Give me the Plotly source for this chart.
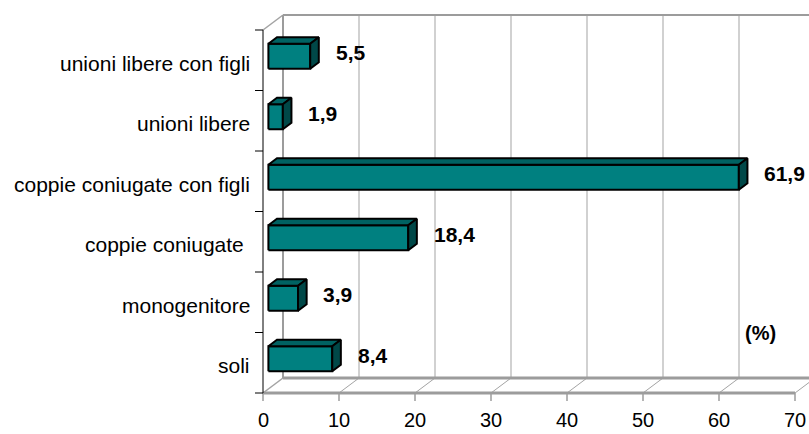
import plotly.graph_objects as go

# ---- data ----
categories = ["soli", "monogenitore", "coppie coniugate\u00a0", "coppie coniugate con figli",
              "unioni libere", "unioni libere con figli"]
values = [8.4, 3.9, 18.4, 61.9, 1.9, 5.5]
value_labels = ["8,4", "3,9", "18,4", "61,9", "1,9", "5,5"]
x_ticks = [0, 10, 20, 30, 40, 50, 60, 70]
x_tick_labels = ["0", "10", "20", "30", "40", "50", "60", "70"]
unit_label = "(%)"

# ---- geometry (data units) ----
W, H = 809, 434
XMIN, XMAX = -34.605, 71.842
YMIN, YMAX = -0.6777, 6.4959
PX_X = W / (XMAX - XMIN)
PX_Y = H / (YMAX - YMIN)
DX = 20 / PX_X          # depth offset of the 3D box
DY = 15 / PX_Y
F0, F1 = 0.27, 0.70     # bar depth span (fraction of box depth)
HALF = 0.2066           # half bar thickness
NCAT = len(categories)
XM = x_ticks[-1]

FONT = "Liberation Sans, Arial, sans-serif"
GRID = "#A3A3A3"
EDGE = "#9C9C9C"

fig = go.Figure()

def seg_trace(segs, color, width):
    xs, ys = [], []
    for (x0, y0, x1, y1) in segs:
        xs += [x0, x1, None]
        ys += [y0, y1, None]
    fig.add_trace(go.Scatter(x=xs, y=ys, mode="lines", line=dict(color=color, width=width),
                             hoverinfo="skip", showlegend=False))

# back wall vertical gridlines
seg_trace([(t + DX, DY, t + DX, NCAT + DY) for t in x_ticks[1:]], GRID, 1)
# floor diagonals
seg_trace([(t, 0, t + DX, DY) for t in x_ticks[1:]], GRID, 1)
seg_trace([(0, 0, DX, DY), (0, NCAT, DX, NCAT + DY)], GRID, 1.5)
# wall / floor edges
seg_trace([(DX, DY, DX, NCAT + DY), (DX, NCAT + DY, XM + DX + 5, NCAT + DY)], EDGE, 2)
seg_trace([(DX, DY, XM + DX, DY), (0, 0, XM, 0)], EDGE, 3)
# x tick marks
seg_trace([(t, 0, t, -8 / PX_Y) for t in x_ticks], EDGE, 1.5)
# category axis
seg_trace([(0, 0, 0, NCAT)] + [(-8 / PX_X, k, 0, k) for k in range(NCAT + 1)], "#000000", 1)

# bars
ddx, ddy = (F1 - F0) * DX, (F1 - F0) * DY
for i, v in enumerate(values):
    c = i + 0.5
    x0, x1 = F0 * DX, v + F0 * DX
    y0, y1 = c - HALF + F0 * DY, c + HALF + F0 * DY
    faces = [
        ([x0, x1, x1, x0, x0], [y0, y0, y1, y1, y0], "#008080"),
        ([x0, x1, x1 + ddx, x0 + ddx, x0], [y1, y1, y1 + ddy, y1 + ddy, y1], "#006262"),
        ([x1, x1 + ddx, x1 + ddx, x1, x1], [y0, y0 + ddy, y1 + ddy, y1, y0], "#004848"),
    ]
    for fx, fy, col in faces:
        fig.add_trace(go.Scatter(x=fx, y=fy, mode="lines", fill="toself", fillcolor=col,
                                 line=dict(color="#000000", width=2), hoverinfo="skip",
                                 showlegend=False))

annotations = []
for i, (v, lab) in enumerate(zip(values, value_labels)):
    c = i + 0.5
    annotations.append(dict(x=v + 0.485 * DX + 19 / PX_X, y=c + 0.485 * DY, text="<b>%s</b>" % lab,
                            xanchor="left", yanchor="middle", showarrow=False,
                            font=dict(family=FONT, size=21, color="#000000")))
for i, cat in enumerate(categories):
    annotations.append(dict(x=-11 / PX_X, y=i + 0.5 - 3 / PX_Y, text=cat, xanchor="right",
                            yanchor="middle", showarrow=False,
                            font=dict(family=FONT, size=21, color="#000000")))
for t, lab in zip(x_ticks, x_tick_labels):
    annotations.append(dict(x=t, y=-40 / PX_Y, text=lab, xanchor="center", yanchor="bottom",
                            showarrow=False, font=dict(family=FONT, size=20, color="#000000")))
annotations.append(dict(x=63.1, y=1.0, text="<b>%s</b>" % unit_label, xanchor="left",
                        yanchor="middle", showarrow=False,
                        font=dict(family=FONT, size=20, color="#000000")))

fig.update_layout(
    width=W, height=H, autosize=False,
    margin=dict(l=0, r=0, t=0, b=0),
    paper_bgcolor="white", plot_bgcolor="white",
    xaxis=dict(range=[XMIN, XMAX], visible=False, fixedrange=True),
    yaxis=dict(range=[YMIN, YMAX], visible=False, fixedrange=True),
    annotations=annotations,
    showlegend=False,
)

fig.write_html("out.html", config={"displayModeBar": False},
               post_script="document.body.style.margin='0px';document.body.style.overflow='hidden';")
